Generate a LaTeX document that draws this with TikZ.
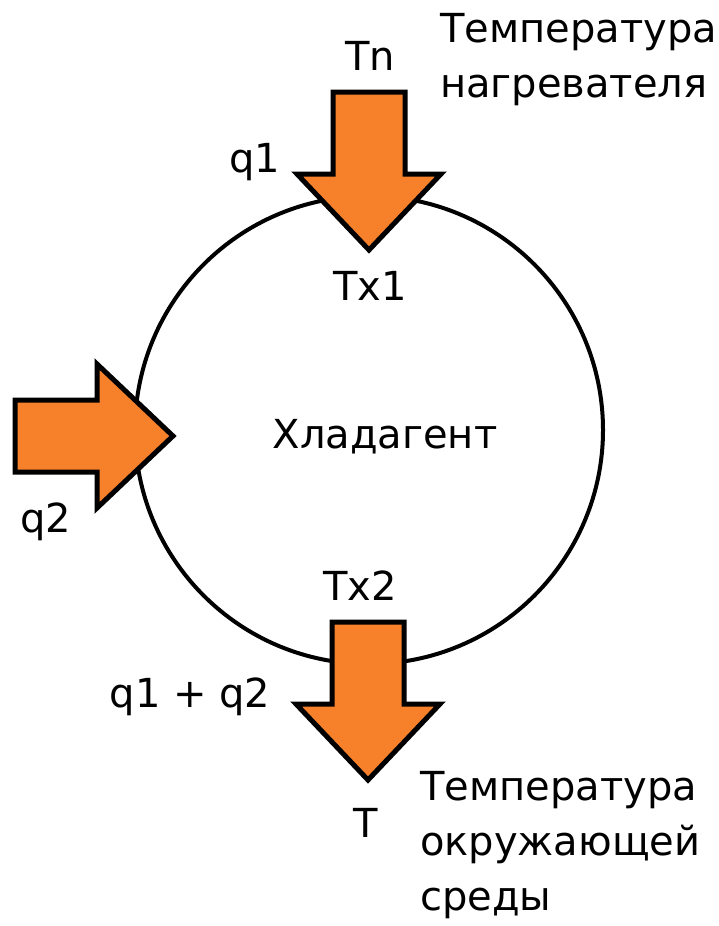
\documentclass[tikz,border=0pt]{standalone}
\usepackage{fontspec}
\setmainfont{DejaVu Sans}
\usepackage{xcolor}
\usepackage{tikz}
\usetikzlibrary{positioning}

\definecolor{heatorange}{HTML}{F7812A}

\tikzset{
  lbl/.style={font=\fontsize{40}{55}\selectfont, inner sep=0pt},
  flow/.style={fill=heatorange, draw=black, line width=5pt, line join=miter},
}

\begin{document}
\begin{tikzpicture}[x=1pt, y=-1pt]
  \useasboundingbox (0,0) rectangle (719,926);
  % refrigerant loop
  \node[circle, draw, line width=4pt, minimum size=468pt, inner sep=0pt] (loop) at (369,430) {};
  \node[lbl] (agent) at (385,437) {Хладагент};
  % heat flows: tip / angle
  \foreach \tx/\ty/\ang in {369/250/-90, 173/436/0, 368/780/-90} {
    \draw[flow, shift={(\tx,\ty)}, rotate=\ang]
      (0,0) -- (-76,72) -- (-76,36) -- (-158,36)
      -- (-158,-36) -- (-76,-36) -- (-76,-72) -- cycle;
  }
  % labels
  \node[lbl] (tn) at (370,56) {Tn};
  \node[lbl, anchor=north west, align=left] (heater) at (440,13)
    {Температура\\нагревателя};
  \node[lbl] (q1) at (255,162) {q1};
  \node[lbl] (tx1) at (370,286) {Tx1};
  \node[lbl] (q2) at (46,522) {q2};
  \node[lbl] (tx2) at (360,586) {Tx2};
  \node[lbl] (qsum) at (190,697) {q1 + q2};
  \node[lbl] (tenv) at (366,823) {T};
  \node[lbl, anchor=north west, align=left] (ambient) at (420,771)
    {Температура\\окружающей\\среды};
\end{tikzpicture}
\end{document}
